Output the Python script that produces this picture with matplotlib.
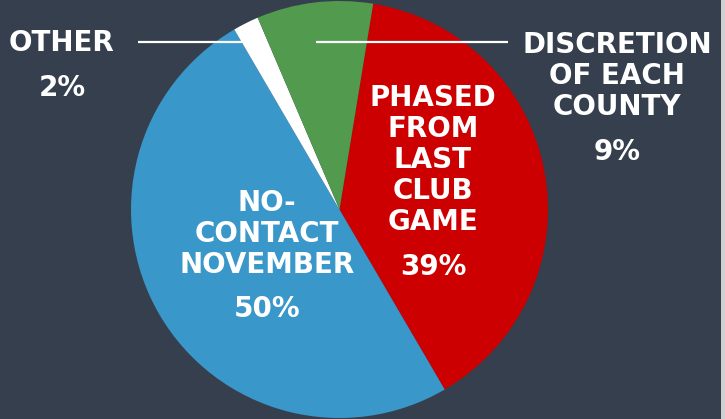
import matplotlib
matplotlib.use("Agg")
import matplotlib.pyplot as plt
from matplotlib.patches import Rectangle

# Data (clockwise order starting just right of 12 o'clock)
categories = ["PHASED\nFROM\nLAST\nCLUB\nGAME", "NO-\nCONTACT\nNOVEMBER", "OTHER", "DISCRETION\nOF EACH\nCOUNTY"]
values = [39, 50, 2, 9]
pct_labels = ["39%", "50%", "2%", "9%"]
colors = ["#cc0000", "#3a97c9", "#ffffff", "#519a4e"]

BG = "#363f4d"
W, H = 725, 419
fig = plt.figure(figsize=(W / 100, H / 100), dpi=100, facecolor=BG)
ax = fig.add_axes([0, 0, 1, 1])
ax.set_facecolor(BG)

cx, cy, r = 339.5, H - 209.5, 208.5
ax.pie(values, colors=colors, startangle=80.7, counterclock=False,
       center=(cx, cy), radius=r, frame=True,
       wedgeprops=dict(linewidth=0))
ax.set_xlim(0, W)
ax.set_ylim(0, H)
ax.set_aspect("auto")
ax.axis("off")

def y(p):
    return H - p

font = dict(family="DejaVu Sans", weight="bold", color="white", ha="center", va="center")
fs = 20
ls = 31

def block(text, x, ytop, pct, pct_y):
    lines = text.split("\n")
    for i, ln in enumerate(lines):
        ax.text(x, y(ytop + i * ls), ln, fontsize=fs, **font)
    ax.text(x, y(pct_y), pct, fontsize=fs, **font)

# Inside labels
block(categories[0], 433, 98, pct_labels[0], 267)
block(categories[1], 267, 203, pct_labels[1], 309)
# Outside labels
block(categories[2], 62, 43, pct_labels[2], 88)
block(categories[3], 617, 45, pct_labels[3], 152)

# Leader lines
ax.plot([138, 242], [y(42), y(42)], color="white", lw=1.6, solid_capstyle="butt")
ax.plot([316, 508], [y(42), y(42)], color="white", lw=1.6, solid_capstyle="butt")

# thin light strip at the right edge
ax.add_patch(Rectangle((721, 0), 4, H, color="#d0d0d0", lw=0))

fig.savefig("out.png", dpi=100, facecolor=BG)
